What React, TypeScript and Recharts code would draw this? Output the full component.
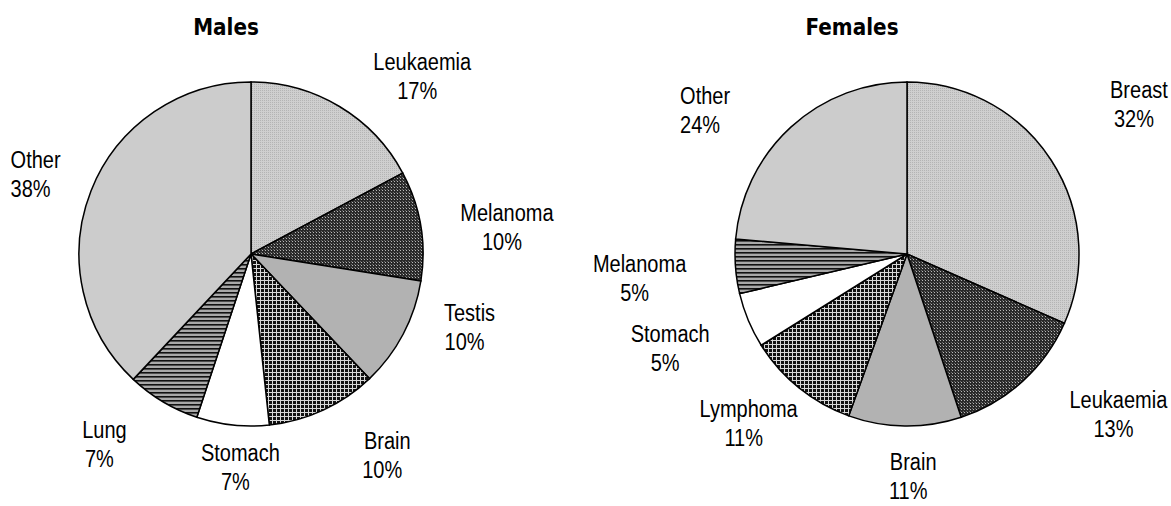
import * as React from "react";
import { PieChart, Pie, Cell } from "recharts";

// shares in %, clockwise from 12 o'clock
const maleCategories = ["Leukaemia", "Melanoma", "Testis", "Brain", "Stomach", "Lung", "Other"];
const maleShares = [17.2, 10.3, 10.4, 10.4, 6.8, 6.9, 38.0];

const femaleCategories = ["Breast", "Leukaemia", "Brain", "Lymphoma", "Stomach", "Melanoma", "Other"];
const femaleShares = [31.6, 13.3, 10.6, 10.6, 5.2, 5.1, 23.6];

// slice fills in drawing order (same sequence of patterns for both pies)
const SLICE_FILLS = [
  "url(#dotsLight)",
  "url(#dotsDark)",
  "#b2b2b2",
  "url(#grid)",
  "#ffffff",
  "url(#stripes)",
  "#cccccc",
];

// label nudges away from the default spot outside each slice
const maleLabelNudge = [
  [57, 13],
  [37, 10],
  [22, -30],
  [43, 0],
  [13, -7],
  [-33, 0],
  [-9, 2],
];
const femaleLabelNudge = [
  [46, -28],
  [62, -4],
  [9, 0],
  [-19, -3],
  [-32, 9],
  [-46, 8],
  [-52, 20],
];

const RADIAN = Math.PI / 180;
const RADIUS = 172;
const LABEL_GAP = 50;
const TEXT_STRETCH = 1.15;

const toRows = (names: string[], values: number[]) =>
  names.map((name, i) => ({ name, value: values[i] }));

function makeLabel(nudges: number[][]) {
  return (props: any) => {
    const { cx, cy, midAngle, outerRadius, percent, name, index } = props;
    const r = outerRadius + LABEL_GAP;
    const [dx, dy] = nudges[index] || [0, 0];
    const x = cx + r * Math.cos(-midAngle * RADIAN) + dx;
    const y = cy + r * Math.sin(-midAngle * RADIAN) + dy;
    return (
      <g transform={`translate(${x},${y}) scale(1,${TEXT_STRETCH})`}>
        <text
          textAnchor="middle"
          fontFamily="'Liberation Sans', Arial, sans-serif"
          fontSize={20}
          fill="#000"
        >
          <tspan x={0} y={-5.6}>
            {name}
          </tspan>
          <tspan x={-5} y={19.6}>
            {`${Math.round(percent * 100)}%`}
          </tspan>
        </text>
      </g>
    );
  };
}

const titleStyle: React.CSSProperties = {
  position: "absolute",
  top: 12,
  width: 200,
  textAlign: "center",
  fontFamily: "'DejaVu Sans', Verdana, sans-serif",
  fontWeight: "bold",
  fontSize: 20,
  lineHeight: "30px",
  transform: `scaleY(${TEXT_STRETCH})`,
  color: "#000",
};

function PatternDefs() {
  return (
    <svg width={0} height={0} style={{ position: "absolute" }}>
      <defs>
        <pattern id="dotsLight" width={2} height={2} patternUnits="userSpaceOnUse">
          <rect width={2} height={2} fill="#cfcfcf" />
          <rect x={0} y={0} width={1} height={1} fill="#b4b4b4" />
        </pattern>
        <pattern id="dotsDark" width={3} height={3} patternUnits="userSpaceOnUse">
          <rect width={3} height={3} fill="#2a2a2a" />
          <rect x={1} y={1} width={1} height={1} fill="#b8b8b8" />
          <rect x={0} y={0} width={1} height={1} fill="#6a6a6a" />
        </pattern>
        <pattern id="grid" width={4} height={4} patternUnits="userSpaceOnUse">
          <rect width={4} height={4} fill="#111" />
          <rect x={0} y={0} width={4} height={1} fill="#d8d8d8" />
          <rect x={0} y={0} width={1} height={4} fill="#d8d8d8" />
        </pattern>
        <pattern id="stripes" width={4} height={4} patternUnits="userSpaceOnUse">
          <rect width={4} height={4} fill="#a8a8a8" />
          <rect x={0} y={0} width={4} height={1.6} fill="#111" />
        </pattern>
      </defs>
    </svg>
  );
}

export default function App() {
  const males = toRows(maleCategories, maleShares);
  const females = toRows(femaleCategories, femaleShares);

  return (
    <div
      style={{
        position: "absolute",
        left: 0,
        top: 0,
        width: 1171,
        height: 506,
        background: "#fff",
      }}
    >
      <PatternDefs />
      <div style={{ ...titleStyle, left: 126 }}>Males</div>
      <div style={{ ...titleStyle, left: 752 }}>Females</div>
      <PieChart width={1171} height={506} margin={{ top: 0, right: 0, bottom: 0, left: 0 }}>
        <Pie
          data={males}
          dataKey="value"
          nameKey="name"
          cx={251}
          cy={254}
          outerRadius={RADIUS}
          startAngle={90}
          endAngle={-270}
          stroke="#000"
          strokeWidth={1.5}
          labelLine={false}
          label={makeLabel(maleLabelNudge)}
          isAnimationActive={false}
        >
          {males.map((entry, i) => (
            <Cell key={`m-${entry.name}`} fill={SLICE_FILLS[i]} />
          ))}
        </Pie>
        <Pie
          data={females}
          dataKey="value"
          nameKey="name"
          cx={907}
          cy={254}
          outerRadius={RADIUS}
          startAngle={90}
          endAngle={-270}
          stroke="#000"
          strokeWidth={1.5}
          labelLine={false}
          label={makeLabel(femaleLabelNudge)}
          isAnimationActive={false}
        >
          {females.map((entry, i) => (
            <Cell key={`f-${entry.name}`} fill={SLICE_FILLS[i]} />
          ))}
        </Pie>
      </PieChart>
    </div>
  );
}
